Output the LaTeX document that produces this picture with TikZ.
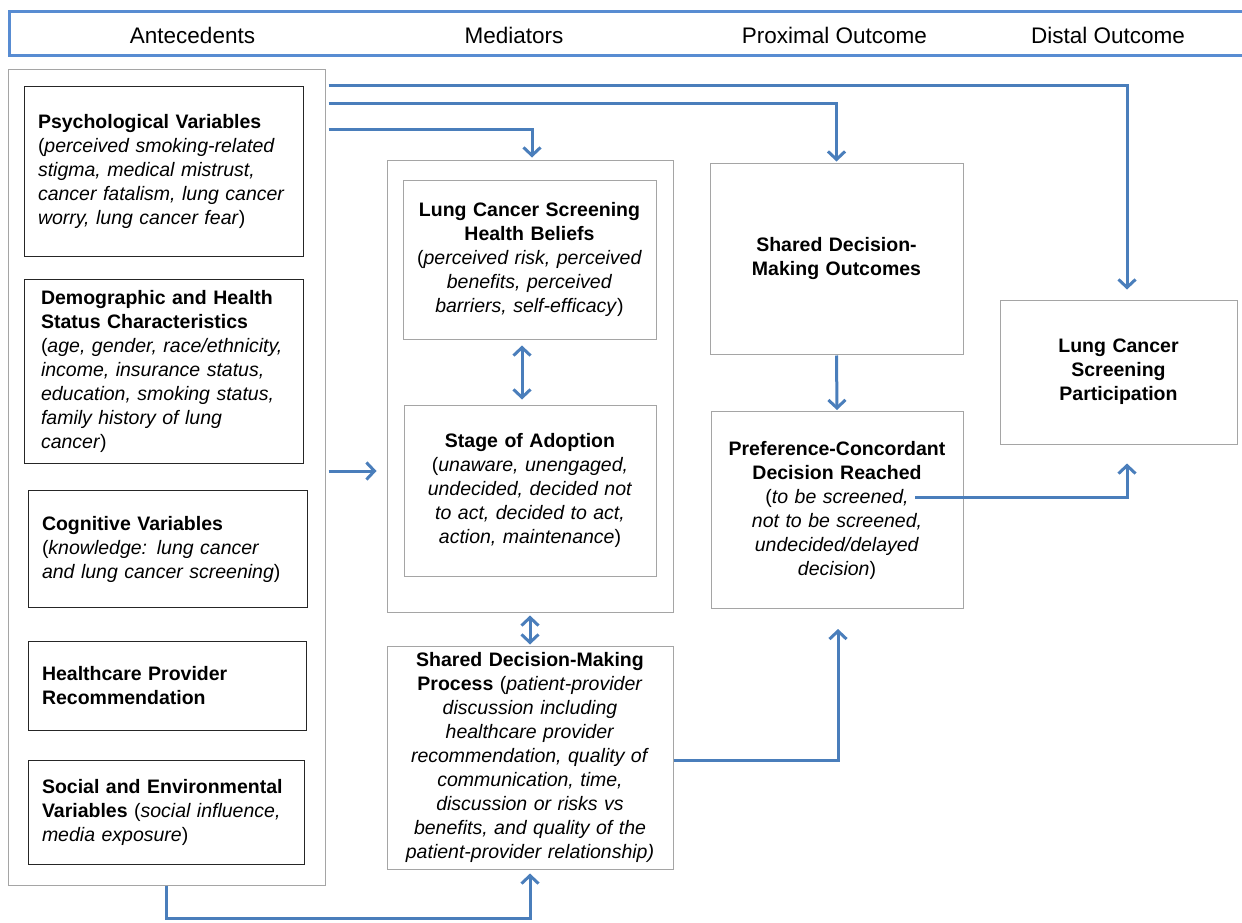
\documentclass[tikz,border=0pt]{standalone}
\usepackage{fontspec}
\setmainfont{Liberation Sans}
\usepackage{xcolor}
\definecolor{hdrblue}{RGB}{88,140,210}
\definecolor{flowblue}{RGB}{74,126,187}
\definecolor{boxgray}{RGB}{165,165,165}
\usetikzlibrary{arrows.meta, positioning, calc}

\tikzset{
  txt/.style={font=\fontsize{19.5}{24}\selectfont},
  hdr/.style={font=\fontsize{22.5}{27}\selectfont},
  antebox/.style={txt, draw=black!85, line width=0.9pt, align=left, inner xsep=14pt, inner ysep=0pt},
  medbox/.style={txt, draw=boxgray, line width=1pt, align=center, inner xsep=4pt, inner ysep=0pt},
  flow/.style={draw=flowblue, line width=3pt, -{Straight Barb[length=8pt,width=17pt]}},
  both/.style={flow, {Straight Barb[length=8pt,width=17pt]}-{Straight Barb[length=8pt,width=17pt]}}
}

\begin{document}
\begin{tikzpicture}[x=1pt, y=-1pt]
  \useasboundingbox (0,0) rectangle (1242,923);

  % Header band
  \draw[hdrblue, line width=3pt] (1250,12) -- (9,12) -- (9,56) -- (1250,56);
  \node[hdr] (hAnte) at (192.5,35) {Antecedents};
  \node[hdr] (hMed)  at (514,35)   {Mediators};
  \node[hdr] (hProx) at (834.5,35) {Proximal Outcome};
  \node[hdr] (hDist) at (1108,35)  {Distal Outcome};

  % --- Antecedents ---
  \node[draw=boxgray, line width=1pt, minimum width=317pt, minimum height=815pt] (ante) at (166.5,477.5) {};
  \node[antebox, minimum width=279pt, minimum height=170pt, text width=251pt] (psych) at (163.5,171)
    {\textbf{Psychological Variables}\\(\textit{perceived smoking-related}\\\textit{stigma, medical mistrust,}\\\textit{cancer fatalism, lung cancer}\\\textit{worry, lung cancer fear})};
  \node[antebox, minimum width=279pt, minimum height=184pt, text width=245pt, inner xsep=17pt] (demo) at (163.5,371)
    {\textbf{Demographic and Health}\\\textbf{Status Characteristics}\\(\textit{age, gender, race/ethnicity,}\\\textit{income, insurance status,}\\\textit{education, smoking status,}\\\textit{family history of lung}\\\textit{cancer})};
  \node[antebox, minimum width=279pt, minimum height=117pt, text width=251pt] (cog) at (167.5,549)
    {\textbf{Cognitive Variables}\\(\textit{knowledge: lung cancer}\\\textit{and lung cancer screening})};
  \node[antebox, minimum width=278pt, minimum height=89pt, text width=250pt] (hcp) at (167,686)
    {\textbf{Healthcare Provider}\\\textbf{Recommendation}};
  \node[antebox, minimum width=276pt, minimum height=104pt, text width=248pt] (soc) at (166,812.5)
    {\textbf{Social and Environmental}\\\textbf{Variables} (\textit{social influence,}\\\textit{media exposure})};

  % --- Mediators ---
  \node[draw=boxgray, line width=1pt, minimum width=286pt, minimum height=452pt] (med) at (530,386) {};
  \node[medbox, minimum width=253pt, minimum height=159pt, text width=245pt] (belief) at (529.5,259.5)
    {\textbf{Lung Cancer Screening}\\\textbf{Health Beliefs}\\(\textit{perceived risk, perceived}\\\textit{benefits, perceived}\\\textit{barriers, self-efficacy})};
  \node[medbox, minimum width=252pt, minimum height=171pt, text width=244pt] (stage) at (530,490.5)
    {\textbf{Stage of Adoption}\\(\textit{unaware, unengaged,}\\\textit{undecided, decided not}\\\textit{to act, decided to act,}\\\textit{action, maintenance})};
  \node[medbox, minimum width=286pt, minimum height=223pt, text width=278pt] (sdmp) at (530,757.5)
    {\textbf{Shared Decision-Making}\\\textbf{Process} (\textit{patient-provider}\\\textit{discussion including}\\\textit{healthcare provider}\\\textit{recommendation, quality of}\\\textit{communication, time,}\\\textit{discussion or risks vs}\\\textit{benefits, and quality of the}\\\textit{patient-provider relationship)}};

  % --- Outcomes ---
  \node[medbox, minimum width=253pt, minimum height=191pt, text width=245pt] (sdmo) at (836.5,258.5)
    {\textbf{Shared Decision-}\\\textbf{Making Outcomes}};
  \node[medbox, minimum width=252pt, minimum height=197pt, text width=244pt] (pref) at (837,510)
    {\textbf{Preference-Concordant}\\\textbf{Decision Reached}\\(\textit{to be screened,}\\\textit{not to be screened,}\\\textit{undecided/delayed}\\\textit{decision})};
  \node[medbox, minimum width=237pt, minimum height=144pt, text width=229pt] (part) at (1118.5,372)
    {\textbf{Lung Cancer}\\\textbf{Screening}\\\textbf{Participation}};

  % --- Connectors ---
  \coordinate (prefout) at (915,497);
  \draw[flow] ([xshift=3pt]ante.east |- 0,86) -| ([xshift=8.5pt,yshift=10pt]part.north);
  \draw[flow] ([xshift=3pt]ante.east |- 0,104) -| ([yshift=1pt]sdmo.north);
  \draw[flow] ([xshift=3pt]ante.east |- 0,130) -| ([xshift=2pt,yshift=2pt]med.north);
  \draw[flow] ([xshift=3pt]ante.east |- 0,471) -- ([xshift=-10pt]med.west |- 0,471);
  \draw[both] ([xshift=-7.5pt,yshift=-6pt]belief.south) -- ([xshift=-8pt,yshift=5pt]stage.north);
  \draw[both] ([yshift=-3pt]med.south) -- ([yshift=1pt]sdmp.north);
  \draw[flow] (ante.south) -- ++(0,33) -| ([yshift=-4pt]sdmp.south);
  \draw[flow] ([yshift=-2.5pt]sdmp.east) -| ([xshift=1pt,yshift=-20pt]pref.south);
  \draw[flow] ([yshift=-1pt]sdmo.south) -- ([yshift=1pt]pref.north);
  \draw[flow] (prefout) -| ([xshift=8.5pt,yshift=-19pt]part.south);
\end{tikzpicture}
\end{document}
